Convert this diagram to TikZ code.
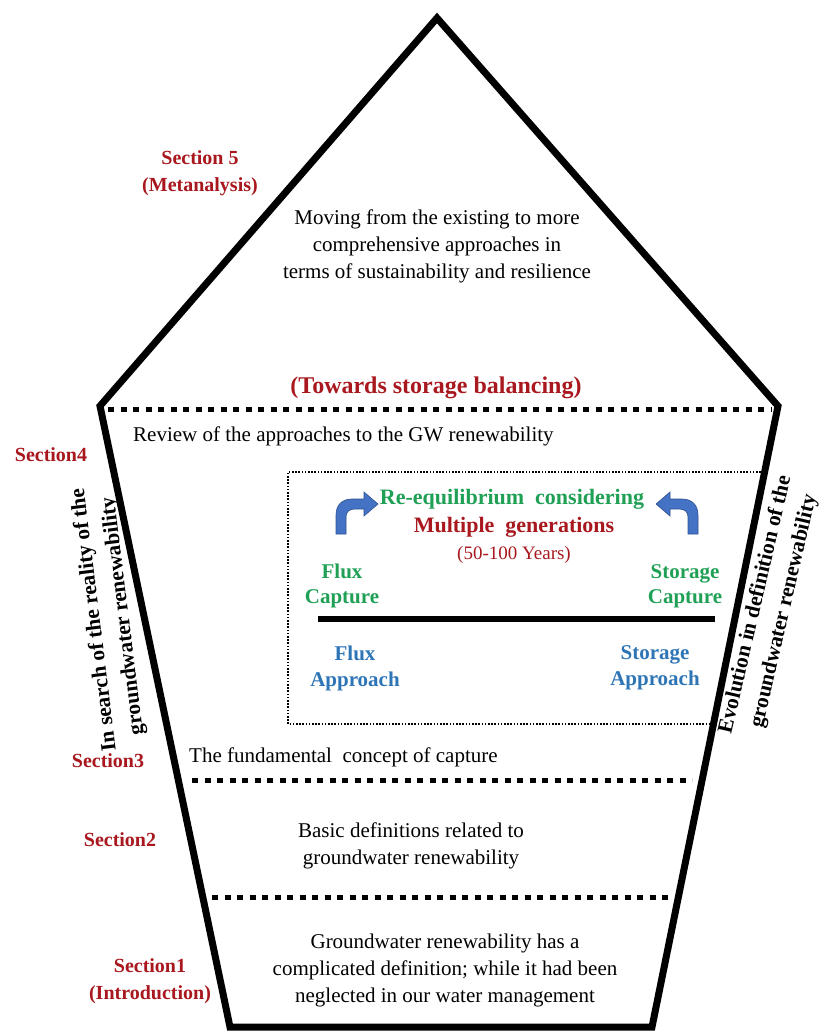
\documentclass[tikz,border=0pt]{standalone}
\usepackage{fontspec}
\setmainfont{Liberation Serif}
\definecolor{secred}{HTML}{A8181E}
\definecolor{capgreen}{HTML}{1FA055}
\definecolor{appblue}{HTML}{2E75B6}
\definecolor{arrowfill}{HTML}{4472C4}
\definecolor{arrowline}{HTML}{2F528F}
\begin{document}
\begin{tikzpicture}[x=1pt,y=-1pt,
  body/.style={inner sep=0pt,align=center,font=\fontsize{21}{27}\selectfont},
  bodyleft/.style={inner sep=0pt,anchor=west,font=\fontsize{21}{27}\selectfont},
  seclabel/.style={inner sep=0pt,align=center,text=secred,font=\fontsize{20}{27}\selectfont\bfseries},
  sidetext/.style={inner sep=0pt,align=center,font=\fontsize{21.5}{29}\selectfont\bfseries},
  captext/.style={inner sep=0pt,align=center,text=capgreen,font=\fontsize{21}{25}\selectfont\bfseries},
  apptext/.style={inner sep=0pt,align=center,text=appblue,font=\fontsize{21}{26}\selectfont\bfseries},
  frame/.style={line width=7pt,line join=miter},
  divider/.style={line width=5pt,dash pattern=on 6pt off 6.5pt},
  thinbox/.style={line width=1.6pt,dash pattern=on 1.6pt off 1.6pt},
  bentarrow/.style={fill=arrowfill,draw=arrowline,line width=0.6pt,line join=miter}]

\useasboundingbox (0,0) rectangle (821,1031);

% corners of the house outline
\coordinate (apex) at (437,18);
\coordinate (shR) at (778,406);
\coordinate (botR) at (652,1027);
\coordinate (botL) at (230,1027);
\coordinate (shL) at (100,406);
\draw[frame] (apex) -- (shR) -- (botR) -- (botL) -- (shL) -- cycle;

% section dividers
\coordinate (d1a) at (108,409); \coordinate (d1b) at (772,409);
\coordinate (d2a) at (192,780); \coordinate (d2b) at (692,780);
\coordinate (d3a) at (212,897); \coordinate (d3b) at (668,897);
\draw[divider] (d1a) -- (d1b);
\draw[divider] (d2a) -- (d2b);
\draw[divider] (d3a) -- (d3b);

% dotted frame around the capture panel
\coordinate (bx1) at (764,472);
\coordinate (bx2) at (288,472);
\coordinate (bx3) at (288,724);
\coordinate (bx4) at (712,724);
\draw[thinbox] (bx1) -- (bx2) -- (bx3) -- (bx4);

% roof
\node[seclabel] (s5) at (200,173) {Section 5\\(Metanalysis)};
\node[body] (roof) at (437,246) {Moving from the existing to more\\comprehensive approaches in\\terms of sustainability and resilience};
\node[inner sep=0pt,text=secred,font=\fontsize{24}{28}\selectfont\bfseries] (towards) at (436,388) {(Towards storage balancing)};

% section 4
\node[seclabel] (s4) at (51,455) {Section4};
\node[bodyleft] (review) at (133,436) {Review of the approaches to the GW renewability};
\node[sidetext,rotate=97] (leftside) at (109,618) {In search of the reality of the\\groundwater renewability};
\node[sidetext,rotate=77] (rightside) at (770,608) {Evolution in definition of the\\groundwater renewability};

% capture panel
\node[captext,font=\fontsize{22}{25}\selectfont\bfseries] (reeq) at (512,499) {Re-equilibrium\ \ considering};
\node[inner sep=0pt,text=secred,font=\fontsize{22}{25}\selectfont\bfseries] (multi) at (514,527) {Multiple\ \ generations};
\node[inner sep=0pt,text=secred,font=\fontsize{19}{22}\selectfont] (years) at (514,555) {(50-100 Years)};
\node[captext] (fluxcap) at (342,586) {Flux\\Capture};
\node[captext] (storcap) at (685,586) {Storage\\Capture};
\coordinate (axL) at (318,619);
\coordinate (axR) at (715,619);
\draw[line width=6pt] (axL) -- (axR);
\node[apptext] (fluxapp) at (355,668) {Flux\\Approach};
\node[apptext] (storapp) at (655,668) {Storage\\Approach};

% bent arrows
\draw[bentarrow] (336,534) -- (336,515) .. controls (336,505) and (342,499) .. (352,499)
  -- (364,499) -- (364,492) -- (378,504) -- (364,516) -- (364,509) -- (355,509)
  .. controls (349,509) and (346,512) .. (346,517) -- (346,534) -- cycle;
\draw[bentarrow] (698,534) -- (698,515) .. controls (698,505) and (692,499) .. (682,499)
  -- (670,499) -- (670,492) -- (656,504) -- (670,516) -- (670,509) -- (679,509)
  .. controls (685,509) and (688,512) .. (688,517) -- (688,534) -- cycle;

% section 3
\node[seclabel] (s3) at (108,761) {Section3};
\node[bodyleft] (s3text) at (189,757) {The fundamental\ \ concept of capture};

% section 2
\node[seclabel] (s2) at (120,840) {Section2};
\node[body] (s2text) at (411,846) {Basic definitions related to\\groundwater renewability};

% section 1
\node[seclabel] (s1) at (150,981) {Section1\\(Introduction)};
\node[body] (s1text) at (445,970) {Groundwater renewability has a\\complicated definition;\ while it had been\\neglected in our water management};

\end{tikzpicture}
\end{document}
